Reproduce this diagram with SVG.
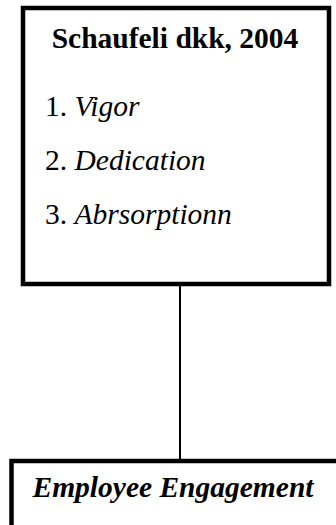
<svg xmlns="http://www.w3.org/2000/svg" width="336" height="525" viewBox="0 0 336 525">
<style>
.box{fill:#fff;stroke:#000;stroke-width:4.5}
.t{font-family:"Liberation Serif","Times New Roman",serif;font-size:29.5px;fill:#000}
.b{font-weight:bold}
.i{font-style:italic}
</style>
<rect width="336" height="525" fill="#fff"/>
<g id="connectors">
<line x1="180" y1="286" x2="180" y2="460" stroke="#000" stroke-width="2"/>
</g>
<g id="source">
<rect class="box" x="23" y="8" width="306" height="276"/>
<text class="t b" x="175" y="48" text-anchor="middle">Schaufeli dkk, 2004</text>
<text class="t" x="45" y="116">1. <tspan class="i">Vigor</tspan></text>
<text class="t" x="45" y="170">2. <tspan class="i">Dedication</tspan></text>
<text class="t" x="45" y="224">3. <tspan class="i">Abrsorptionn</tspan></text>
</g>
<g id="target">
<rect class="box" x="11.5" y="461" width="340" height="80"/>
<text class="t b i" x="173" y="497" text-anchor="middle">Employee Engagement</text>
</g>
</svg>
